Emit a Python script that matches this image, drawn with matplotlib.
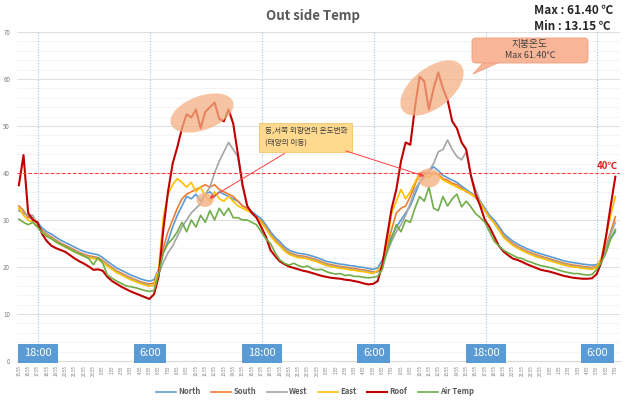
import matplotlib
matplotlib.use('Agg')
import matplotlib.pyplot as plt
from matplotlib.patches import Ellipse, Rectangle, FancyBboxPatch, Polygon
from matplotlib.transforms import IdentityTransform

plt.rcParams['font.family'] = ['Noto Sans CJK KR', 'DejaVu Sans']

# half-hourly readings, 15:55 (day 1) .. 7:55 (day 3)
north = [32.0, 31.5, 30.8, 30.2, 29.5, 28.3, 27.5, 27.0, 26.3, 25.7, 25.2, 24.7, 24.2, 23.7, 23.3, 23.0, 22.8, 22.6, 22.0, 21.2, 20.5, 19.8, 19.3, 18.8, 18.3, 17.9, 17.5, 17.2, 17.0,
         17.3, 19.5, 23.0, 25.5, 28.5, 31.0, 33.0, 35.0, 34.5, 35.5, 34.0, 35.5, 36.0, 35.0, 36.0, 35.5, 35.0, 34.5, 34.0, 33.0, 32.5, 31.8, 31.0, 30.3,
         29.0, 27.5, 26.3, 25.4, 24.3, 23.6, 23.2, 22.9, 22.8, 22.6, 22.3, 22.0, 21.6, 21.2, 21.0, 20.8, 20.6, 20.5, 20.3, 20.2, 20.0, 19.9, 19.7, 19.5,
         19.8, 21.5, 24.0, 26.5, 28.5, 30.0, 31.5, 33.0, 35.5, 38.0, 39.5, 40.5, 41.3, 40.5, 39.5, 39.0, 38.5, 38.0, 37.2, 36.5, 35.8, 35.0, 34.0, 32.5, 31.0,
         30.0, 28.7, 27.2, 26.3, 25.5, 24.9, 24.4, 23.9, 23.5, 23.1, 22.8, 22.5, 22.2, 21.9, 21.6, 21.3, 21.1, 20.9, 20.8, 20.6, 20.5, 20.4, 20.5, 21.5, 24.0, 26.0, 27.5]
south = [33.0, 32.0, 30.5, 30.5, 29.0, 27.8, 27.0, 26.4, 25.7, 25.1, 24.6, 24.1, 23.6, 23.1, 22.7, 22.4, 22.2, 22.0, 21.4, 20.6, 19.9, 19.2, 18.7, 18.2, 17.7, 17.3, 16.9, 16.6, 16.4,
         16.6, 19.5, 24.0, 27.5, 30.0, 32.5, 34.5, 35.5, 36.0, 36.5, 37.0, 37.5, 37.0, 37.5, 36.5, 36.0, 35.5, 35.0, 34.0, 33.0, 32.5, 31.5, 30.5, 29.8,
         28.5, 27.0, 25.8, 24.9, 23.8, 23.1, 22.7, 22.4, 22.3, 22.1, 21.8, 21.5, 21.1, 20.7, 20.5, 20.3, 20.1, 20.0, 19.8, 19.7, 19.5, 19.4, 19.2, 19.0,
         19.0, 20.5, 24.5, 28.0, 31.5, 32.5, 33.0, 35.0, 37.5, 40.0, 40.2, 39.8, 40.0, 39.8, 38.8, 38.5, 37.8, 37.5, 36.8, 36.0, 35.5, 34.8, 33.5, 32.0, 30.5,
         29.5, 28.2, 26.7, 25.8, 25.0, 24.4, 23.9, 23.4, 23.0, 22.6, 22.3, 22.0, 21.7, 21.4, 21.1, 20.8, 20.6, 20.4, 20.3, 20.1, 20.0, 19.9, 20.2, 21.5, 24.5, 27.5, 30.7]
west = [32.0, 31.5, 31.0, 31.0, 29.0, 27.6, 26.8, 26.2, 25.5, 24.9, 24.4, 23.9, 23.4, 22.9, 22.5, 22.2, 22.0, 21.8, 21.2, 20.4, 19.7, 19.0, 18.5, 18.0, 17.5, 17.1, 16.7, 16.4, 16.1,
        16.0, 18.5, 21.0, 23.0, 24.5, 26.5, 28.5, 30.0, 31.5, 32.5, 33.5, 35.5, 37.0, 40.0, 42.5, 44.5, 46.5, 45.0, 43.5, 37.0, 33.0, 31.5, 30.5, 29.5,
        28.3, 26.8, 25.6, 24.7, 23.6, 22.9, 22.5, 22.2, 22.1, 21.9, 21.6, 21.3, 20.9, 20.5, 20.3, 20.1, 19.9, 19.8, 19.6, 19.5, 19.3, 19.2, 19.0, 18.8,
        19.0, 20.3, 23.0, 25.5, 27.5, 29.0, 31.0, 33.5, 36.5, 38.0, 39.0, 40.5, 42.0, 44.5, 45.0, 47.0, 45.0, 43.5, 42.8, 44.5, 39.5, 36.5, 34.0, 32.0, 30.5,
        29.5, 28.0, 26.5, 25.6, 24.8, 24.2, 23.7, 23.2, 22.8, 22.4, 22.1, 21.8, 21.5, 21.2, 20.9, 20.6, 20.4, 20.2, 20.1, 19.9, 19.8, 19.7, 20.0, 21.5, 24.0, 27.0, 29.5]
east = [32.5, 31.0, 30.0, 29.5, 28.5, 27.4, 26.6, 26.0, 25.3, 24.7, 24.2, 23.7, 23.2, 22.7, 22.3, 22.0, 21.8, 21.6, 21.0, 20.2, 19.5, 18.8, 18.3, 17.8, 17.3, 16.9, 16.5, 16.2, 15.9,
        16.2, 19.5, 30.5, 35.5, 37.5, 38.8, 38.0, 37.0, 38.0, 36.0, 37.0, 35.0, 34.0, 36.0, 34.5, 34.0, 35.0, 34.0, 33.0, 32.5, 32.0, 31.5, 30.5, 29.5,
        28.2, 26.6, 25.4, 24.5, 23.4, 22.7, 22.3, 22.0, 21.9, 21.7, 21.4, 21.1, 20.7, 20.3, 20.1, 19.9, 19.7, 19.6, 19.4, 19.3, 19.1, 19.0, 18.8, 18.6,
        19.3, 20.5, 25.0, 31.5, 34.0, 36.5, 34.5, 36.0, 38.0, 40.0, 39.5, 39.0, 40.0, 39.5, 38.5, 38.0, 37.5, 37.0, 36.5, 36.2, 35.5, 35.0, 33.5, 32.0, 30.5,
        29.3, 27.9, 26.3, 25.4, 24.6, 24.0, 23.5, 23.0, 22.6, 22.2, 21.9, 21.6, 21.3, 21.0, 20.7, 20.4, 20.2, 20.0, 19.9, 19.7, 19.6, 19.5, 19.9, 22.0, 26.5, 31.0, 35.0]
roof = [37.4, 43.8, 31.5, 30.0, 29.5, 27.0, 25.5, 24.5, 24.0, 23.6, 23.2, 22.5, 21.8, 21.2, 20.7, 20.1, 19.4, 19.5, 19.2, 17.9, 17.0, 16.4, 15.8, 15.3, 14.8, 14.4, 14.0, 13.6, 13.2,
        14.2, 18.0, 28.0, 36.0, 42.0, 45.5, 49.5, 52.5, 51.8, 53.5, 49.5, 53.0, 54.0, 55.0, 51.5, 51.0, 53.5, 50.5, 44.0, 37.5, 33.0, 31.5, 30.5, 28.5,
        26.5, 23.6, 22.3, 21.2, 20.6, 20.1, 19.8, 19.5, 19.2, 19.0, 18.7, 18.4, 18.1, 17.9, 17.7, 17.6, 17.5, 17.3, 17.2, 17.0, 16.8, 16.5, 16.3, 16.4,
        17.0, 20.5, 26.5, 32.5, 36.5, 42.5, 46.5, 46.0, 54.0, 60.5, 59.5, 53.5, 58.0, 61.4, 58.0, 55.5, 51.0, 49.5, 46.5, 45.0, 39.5, 35.5, 33.0, 30.0, 28.5,
        26.5, 24.5, 23.3, 22.5, 21.8, 21.5, 21.1, 20.6, 20.2, 19.8, 19.4, 19.2, 19.0, 18.7, 18.4, 18.1, 17.9, 17.7, 17.6, 17.5, 17.5, 17.6, 18.5, 21.0, 26.5, 33.0, 39.2]
air = [30.2, 29.5, 29.0, 29.5, 28.5, 27.3, 26.5, 26.0, 25.3, 24.8, 24.3, 23.8, 23.2, 22.8, 22.3, 21.8, 20.5, 22.0, 20.8, 18.3, 17.6, 17.0, 16.5, 16.0, 15.8, 15.6, 15.3, 15.0, 14.8,
       15.0, 18.5, 23.0, 25.0, 26.0, 27.5, 29.5, 27.5, 30.0, 28.5, 31.0, 29.5, 32.0, 30.0, 32.5, 31.0, 32.5, 30.5, 30.5, 30.0, 30.0, 29.5, 29.0, 27.5,
       26.0, 25.0, 23.0, 21.5, 20.8, 20.4, 20.8, 20.3, 20.0, 20.2, 19.6, 19.4, 19.5, 19.0, 18.7, 18.5, 18.6, 18.2, 18.3, 18.0, 18.0, 17.8, 17.7, 17.8,
       18.0, 19.5, 23.5, 26.0, 29.0, 27.5, 30.0, 29.5, 32.5, 35.0, 34.0, 37.0, 32.5, 32.0, 35.0, 33.0, 34.5, 35.5, 32.8, 34.0, 32.8, 31.4, 30.5, 29.5, 27.5,
       25.5, 24.5, 23.6, 23.0, 22.5, 22.0, 21.8, 21.3, 21.0, 20.6, 20.3, 20.1, 19.9, 19.6, 19.3, 19.0, 18.8, 18.6, 18.6, 18.4, 18.3, 18.4, 19.5, 21.0, 23.0, 26.0, 28.0]

hour_labels = ['15:55', '16:55', '17:55', '18:55', '19:55', '20:55', '21:55', '22:55', '23:55',
               '0:55', '1:55', '2:55', '3:55', '4:55', '5:55', '6:55', '7:55', '8:55', '9:55',
               '10:55', '11:55', '12:55', '13:55', '14:55', '15:55', '16:55', '17:55', '18:55',
               '19:55', '20:55', '21:55', '22:55', '23:55', '0:55', '1:55', '2:55', '3:55',
               '4:55', '5:55', '6:55', '7:55', '8:55', '9:55', '10:55', '11:55', '12:55',
               '13:55', '14:55', '15:55', '16:55', '17:55', '18:55', '19:55', '20:55', '21:55',
               '22:55', '23:55', '0:55', '1:55', '2:55', '3:55', '4:55', '5:55', '6:55', '7:55']
marker_labels = ['18:00', '6:00', '18:00', '6:00', '18:00', '6:00']
marker_hours = [2.08, 14.08, 26.08, 38.08, 50.08, 62.08]

series = [('North', north, '#5B9BD5'), ('South', south, '#ED7D31'),
          ('West', west, '#A5A5A5'), ('East', east, '#FFC000'),
          ('Roof', roof, '#C00000'), ('Air Temp', air, '#70AD47')]

t = [i * 0.5 for i in range(len(north))]

fig = plt.figure(figsize=(6.28, 4.01), dpi=100)
ax = fig.add_axes([17 / 628, 40 / 401, 603 / 628, 329 / 401])

for name, vals, col in series:
    ax.plot(t, vals, color=col, lw=1.5 if name == 'Roof' else 1.2, label=name)

ax.set_xlim(-0.2, 64.5)
ax.set_ylim(0, 70)
ax.set_yticks(range(0, 71, 10))
ax.set_yticks(range(0, 71, 2), minor=True)
ax.set_xticks(range(len(hour_labels)))
ax.set_xticklabels(hour_labels, rotation=90, fontsize=3.2, color='#7F7F7F')
ax.tick_params(axis='y', which='both', length=0, labelsize=4.5, labelcolor='#7F7F7F', pad=5)
ax.tick_params(axis='x', length=0, pad=3)
ax.grid(axis='y', which='major', color='#D9D9D9', lw=0.6)
ax.grid(axis='y', which='minor', color='#F0F0F0', lw=0.5)
ax.set_axisbelow(True)
for s in ['top', 'right', 'left']:
    ax.spines[s].set_visible(False)
ax.spines['bottom'].set_color('#D9D9D9')

for h, lab in zip(marker_hours, marker_labels):
    ax.axvline(h, color='#9DC3E6', ls=(0, (1, 1.5)), lw=0.8, zorder=1)
    w = 4.3 if len(lab) == 5 else 3.5
    ax.add_patch(Rectangle((h - w / 2, -0.4), w, 4.0, fc='#5B9BD5', ec='none',
                           clip_on=False, zorder=5))
    ax.text(h, 1.6, lab, ha='center', va='center', color='white', fontsize=8, zorder=6)

ax.axhline(40, color='#FF4040', ls=(0, (3, 2)), lw=0.8)
ax.text(64.3, 40.5, '40℃', color='#E02020', fontsize=7, fontweight='bold',
        ha='right', va='bottom')

fig.text(313 / 628, 1 - 16 / 401, 'Out side Temp', ha='center', va='center',
         fontsize=9.5, fontweight='bold', color='#595959')
fig.text(534 / 628, 1 - 10 / 401, 'Max : 61.40 ℃', ha='left', va='center',
         fontsize=8.5, fontweight='bold', color='#262626')
fig.text(534 / 628, 1 - 27 / 401, 'Min : 13.15 ℃', ha='left', va='center',
         fontsize=8.5, fontweight='bold', color='#262626')

leg = fig.legend(loc='center', bbox_to_anchor=(315 / 628, 1 - 392 / 401), ncol=6,
                 frameon=False, fontsize=5.5, handlelength=2.6, columnspacing=1.4,
                 handletextpad=0.3)
for txt in leg.get_texts():
    txt.set_color('#595959')
    txt.set_fontweight('bold')

# annotations drawn in pixel coordinates (y measured from top)
H = 401
px = IdentityTransform()


def blob(x, y, w, h, ang, alpha=0.75):
    fig.add_artist(Ellipse((x, H - y), w, h, angle=ang, fc='#F4B183', ec='none',
                           alpha=alpha, transform=px, zorder=3))


blob(202, 113, 66, 34, 20)
blob(432, 88, 74, 40, 38)
blob(205, 200, 17, 14, 0, 0.8)
blob(429, 178, 22, 19, 0, 0.8)

fig.add_artist(Rectangle((259, H - 152), 93, 29, fc='#FFD98E', ec='#F2C46B', lw=0.6,
                         transform=px, zorder=4))
fig.text(265 / 628, 1 - 131 / H, '동,서쪽 외향면의 온도변화', fontsize=5.5,
         color='#404040', va='center', zorder=5)
fig.text(265 / 628, 1 - 143 / H, '(태양의 이동)', fontsize=5.5,
         color='#404040', va='center', zorder=5)

fig.add_artist(Polygon([(484, H - 62), (500, H - 62), (473, H - 74)], closed=True,
                       fc='#F8B597', ec='#EE9F7E', lw=0.6, transform=px, zorder=4))
fig.add_artist(FancyBboxPatch((472, H - 63), 116, 25,
                              boxstyle='round,pad=0,rounding_size=4',
                              fc='#F8B597', ec='#EE9F7E', lw=0.6, transform=px, zorder=4))
fig.text(530 / 628, 1 - 44 / H, '지붕온도', fontsize=7, color='#404040',
         ha='center', va='center', zorder=5)
fig.text(530 / 628, 1 - 56 / H, 'Max 61.40℃', fontsize=6.5, color='#404040',
         ha='center', va='center', zorder=5)

for (x0, y0), (x1, y1) in [((287, 152), (207, 200)), ((343, 150), (427, 177))]:
    fig.add_artist(matplotlib.patches.FancyArrowPatch(
        (x0, H - y0), (x1, H - y1), arrowstyle='-|>', mutation_scale=6,
        color='#FF4040', lw=0.7, transform=px, zorder=4))

fig.savefig('out.png', dpi=100)
